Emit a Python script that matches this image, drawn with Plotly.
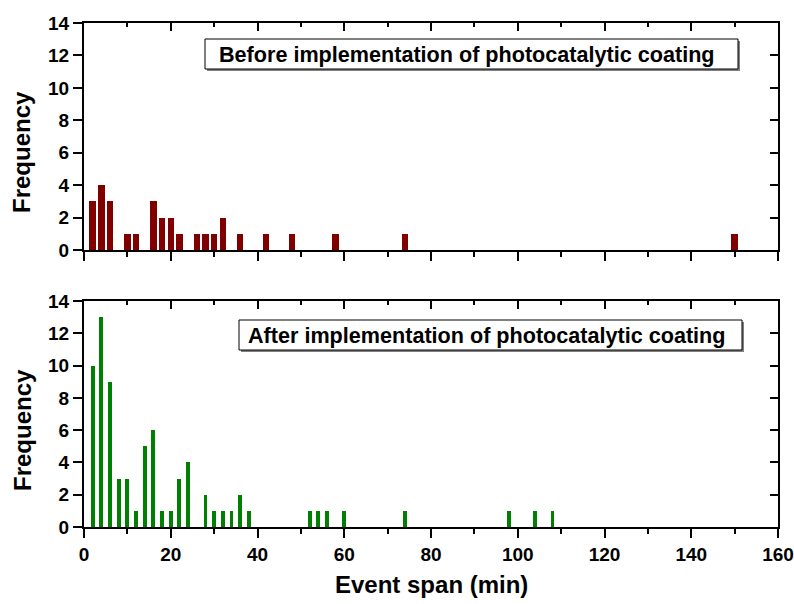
import plotly.graph_objects as go

# Event-span histograms (bin centre in minutes, event count)
before_span = [2, 4, 6, 10, 12, 16, 18, 20, 22, 26, 28, 30, 32, 36, 42, 48, 58, 74, 150]
before_freq = [3, 4, 3, 1, 1, 3, 2, 2, 1, 1, 1, 1, 2, 1, 1, 1, 1, 1, 1]

after_span = [2, 4, 6, 8, 10, 12, 14, 16, 18, 20, 22, 24, 28, 30, 32, 34, 36, 38,
              52, 54, 56, 60, 74, 98, 104, 108]
after_freq = [10, 13, 9, 3, 3, 1, 5, 6, 1, 1, 3, 4, 2, 1, 1, 1, 2, 1,
              1, 1, 1, 1, 1, 1, 1, 1]

x_ticks = [0, 20, 40, 60, 80, 100, 120, 140, 160]
y_ticks = [0, 2, 4, 6, 8, 10, 12, 14]

panel_labels = ["Before implementation of photocatalytic coating",
                "After implementation of photocatalytic coating"]
x_title = "Event span (min)"
y_title = "Frequency"

W, H = 794, 604
FONT = "Liberation Sans, Arial, sans-serif"


def px(x):
    return x / W


def py(y):
    return 1 - y / H


fig = go.Figure()
fig.add_trace(go.Bar(x=before_span, y=before_freq, width=1.5,
                     marker=dict(color="#800000", line=dict(width=0)),
                     xaxis="x", yaxis="y", showlegend=False))
fig.add_trace(go.Bar(x=after_span, y=after_freq, width=0.9,
                     marker=dict(color="#008000", line=dict(width=0)),
                     xaxis="x2", yaxis="y2", showlegend=False))
# empty traces that carry the mirrored (inward-tick) frame axes
fig.add_trace(go.Scatter(x=[None], y=[None], xaxis="x3", yaxis="y3",
                         showlegend=False, hoverinfo="skip"))
fig.add_trace(go.Scatter(x=[None], y=[None], xaxis="x4", yaxis="y4",
                         showlegend=False, hoverinfo="skip"))

xdom = [px(84), px(778)]
top_dom = [py(250), py(23)]
bot_dom = [py(527), py(301)]

tickfont = dict(family=FONT, size=19, color="black", weight="bold")

xbase = dict(range=[0, 160], tickvals=x_ticks, showline=True, linecolor="black",
             linewidth=2, mirror=True, ticks="outside", ticklen=9, tickwidth=2,
             tickcolor="black", showgrid=False, zeroline=False, domain=xdom,
             tickfont=tickfont, automargin=False,
             minor=dict(dtick=10, ticks="outside", ticklen=5, tickwidth=2,
                        tickcolor="black", showgrid=False))
ybase = dict(range=[0, 14], tickvals=y_ticks, showline=True, linecolor="black",
             linewidth=2, mirror=True, ticks="outside", ticklen=9, tickwidth=2,
             tickcolor="black", showgrid=False, zeroline=False,
             tickfont=tickfont, automargin=False)

xmirror = dict(range=[0, 160], tickvals=x_ticks, showticklabels=False,
               showline=False, ticks="inside", ticklen=8, tickwidth=2,
               tickcolor="black", showgrid=False, zeroline=False, side="top",
               automargin=False,
               minor=dict(dtick=10, ticks="inside", ticklen=4, tickwidth=2,
                          tickcolor="black", showgrid=False))
ymirror = dict(range=[0, 14], tickvals=y_ticks, showticklabels=False,
               showline=False, ticks="inside", ticklen=8, tickwidth=2,
               tickcolor="black", showgrid=False, zeroline=False, side="right",
               automargin=False)

fig.update_layout(
    width=W, height=H,
    margin=dict(l=0, r=0, t=0, b=0),
    paper_bgcolor="white", plot_bgcolor="white",
    bargap=0,
    xaxis=dict(xbase, anchor="y", showticklabels=False),
    yaxis=dict(ybase, anchor="x", domain=top_dom),
    xaxis2=dict(xbase, anchor="y2"),
    yaxis2=dict(ybase, anchor="x2", domain=bot_dom),
    xaxis3=dict(xmirror, overlaying="x", anchor="y3", domain=xdom),
    yaxis3=dict(ymirror, overlaying="y", anchor="x3", domain=top_dom),
    xaxis4=dict(xmirror, overlaying="x2", anchor="y4", domain=xdom),
    yaxis4=dict(ymirror, overlaying="y2", anchor="x4", domain=bot_dom),
)

# Panel label boxes: grey drop shadow, then white framed box
boxes = [(205, 39, 738, 69), (239, 320, 742, 350)]
shapes = []
for x0, y0, x1, y1 in boxes:
    shapes.append(dict(type="rect", xref="paper", yref="paper",
                       x0=px(x0 + 2), x1=px(x1 + 2), y0=py(y1 + 2), y1=py(y0 + 2),
                       fillcolor="#808080", line=dict(width=0)))
    shapes.append(dict(type="rect", xref="paper", yref="paper",
                       x0=px(x0), x1=px(x1), y0=py(y1), y1=py(y0),
                       fillcolor="white", line=dict(color="black", width=1)))
fig.update_layout(shapes=shapes)

annotations = []
label_centres = [(466.5, 54), (487, 335)]
for (xc, yc), label in zip(label_centres, panel_labels):
    annotations.append(dict(text=label, xref="paper", yref="paper",
                            x=px(xc), y=py(yc),
                            xanchor="center", yanchor="middle", showarrow=False,
                            font=dict(family=FONT, size=21.6, color="black",
                                      weight="bold")))
for yc in (152, 430):
    annotations.append(dict(text=y_title, xref="paper", yref="paper",
                            x=px(22), y=py(yc), textangle=-90,
                            xanchor="center", yanchor="middle", showarrow=False,
                            font=dict(family=FONT, size=24, color="black",
                                      weight="bold")))
annotations.append(dict(text=x_title, xref="paper", yref="paper",
                        x=px(431), y=py(584), xanchor="center", yanchor="middle",
                        showarrow=False,
                        font=dict(family=FONT, size=24, color="black",
                                  weight="bold")))
fig.update_layout(annotations=annotations)

fig.write_html("out.html")
